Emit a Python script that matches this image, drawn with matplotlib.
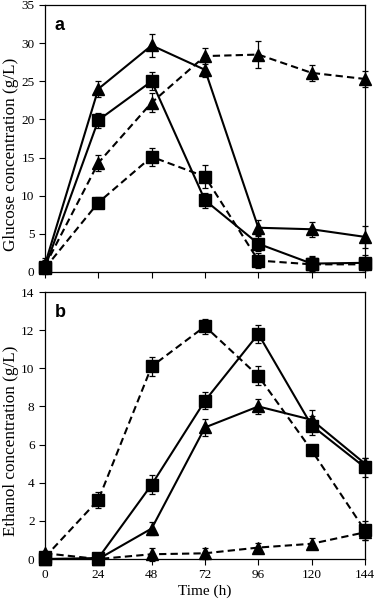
import numpy as np
import matplotlib.pyplot as plt

plt.rcParams['font.family'] = ['Liberation Serif', 'DejaVu Serif']

time_h = [0, 24, 48, 72, 96, 120, 144]

# glucose (g/L)
glu_tri_solid = [1.0, 24.0, 29.7, 26.5, 5.8, 5.6, 4.6]
glu_tri_solid_err = [0.8, 1.0, 1.5, 1.0, 1.0, 1.0, 1.4]
glu_sq_solid = [0.6, 19.9, 25.0, 9.4, 3.7, 1.1, 1.2]
glu_sq_solid_err = [0.8, 1.0, 1.2, 1.0, 1.0, 1.0, 1.0]
glu_tri_dash = [0.8, 14.3, 22.2, 28.3, 28.5, 26.1, 25.3]
glu_tri_dash_err = [0.8, 1.0, 1.2, 1.0, 1.8, 1.0, 1.0]
glu_sq_dash = [0.5, 9.1, 15.1, 12.5, 1.5, 1.0, 1.0]
glu_sq_dash_err = [0.6, 0.7, 1.2, 1.5, 1.0, 1.0, 0.8]

# ethanol (g/L)
eth_sq_dash = [0.1, 3.1, 10.1, 12.2, 9.6, 5.7, 1.5]
eth_sq_dash_err = [0.2, 0.4, 0.5, 0.4, 0.5, 0.1, 0.5]
eth_sq_solid = [0.0, 0.05, 3.9, 8.3, 11.8, 7.0, 4.8]
eth_sq_solid_err = [0.1, 0.1, 0.5, 0.45, 0.45, 0.5, 0.5]
eth_tri_solid = [0.0, 0.0, 1.6, 6.9, 8.0, 7.3, 5.0]
eth_tri_solid_err = [0.1, 0.1, 0.35, 0.45, 0.4, 0.5, 0.3]
eth_tri_dash = [0.3, 0.0, 0.25, 0.3, 0.6, 0.8, 1.4]
eth_tri_dash_err = [0.1, 0.1, 0.35, 0.3, 0.25, 0.3, 0.4]

fig = plt.figure(figsize=(3.76, 6.0), dpi=100)
ax1 = fig.add_axes([0.1197, 0.5467, 0.851, 0.445])
ax2 = fig.add_axes([0.1197, 0.0683, 0.851, 0.445])

def draw_series(ax, y, err, marker, dashed):
    ms = 9 if marker == 's' else 8
    kw = dict(color='black', marker=marker, ms=ms, lw=1.5, elinewidth=0.9,
              capsize=2.5, capthick=0.9, clip_on=False, zorder=3)
    if dashed:
        line = ax.errorbar(time_h, y, yerr=err, ls='--', **kw)
        line[0].set_dashes((3.5, 2))
    else:
        ax.errorbar(time_h, y, yerr=err, ls='-', **kw)

draw_series(ax1, glu_tri_solid, glu_tri_solid_err, '^', False)
draw_series(ax1, glu_sq_solid, glu_sq_solid_err, 's', False)
draw_series(ax1, glu_tri_dash, glu_tri_dash_err, '^', True)
draw_series(ax1, glu_sq_dash, glu_sq_dash_err, 's', True)

draw_series(ax2, eth_sq_dash, eth_sq_dash_err, 's', True)
draw_series(ax2, eth_sq_solid, eth_sq_solid_err, 's', False)
draw_series(ax2, eth_tri_solid, eth_tri_solid_err, '^', False)
draw_series(ax2, eth_tri_dash, eth_tri_dash_err, '^', True)

for ax in (ax1, ax2):
    ax.set_xlim(0, 144)
    ax.set_xticks(time_h)
    ax.tick_params(direction='out', length=4, width=0.8, labelsize=9.5, top=False, right=False)
    for s in ax.spines.values():
        s.set_linewidth(0.9)

ax1.set_ylim(0, 35)
ax1.set_yticks(range(0, 36, 5))
ax1.set_xticklabels([])
ax1.set_ylabel('Glucose concentration (g/L)', fontsize=12.3)
ax1.yaxis.set_label_coords(-0.08, 0.442)
ax1.text(0.03, 0.955, 'a', transform=ax1.transAxes, fontsize=13, fontweight='bold',
         family='Liberation Sans', va='top')

ax2.set_ylim(0, 14)
ax2.set_yticks(range(0, 15, 2))
ax2.set_ylabel('Ethanol concentration (g/L)', fontsize=12.3)
ax2.yaxis.set_label_coords(-0.08, 0.442)
ax2.set_xlabel('Time (h)', fontsize=11, labelpad=2)
ax2.text(0.03, 0.955, 'b', transform=ax2.transAxes, fontsize=13, fontweight='bold',
         family='Liberation Sans', va='top')

fig.savefig('out.png', dpi=100)
